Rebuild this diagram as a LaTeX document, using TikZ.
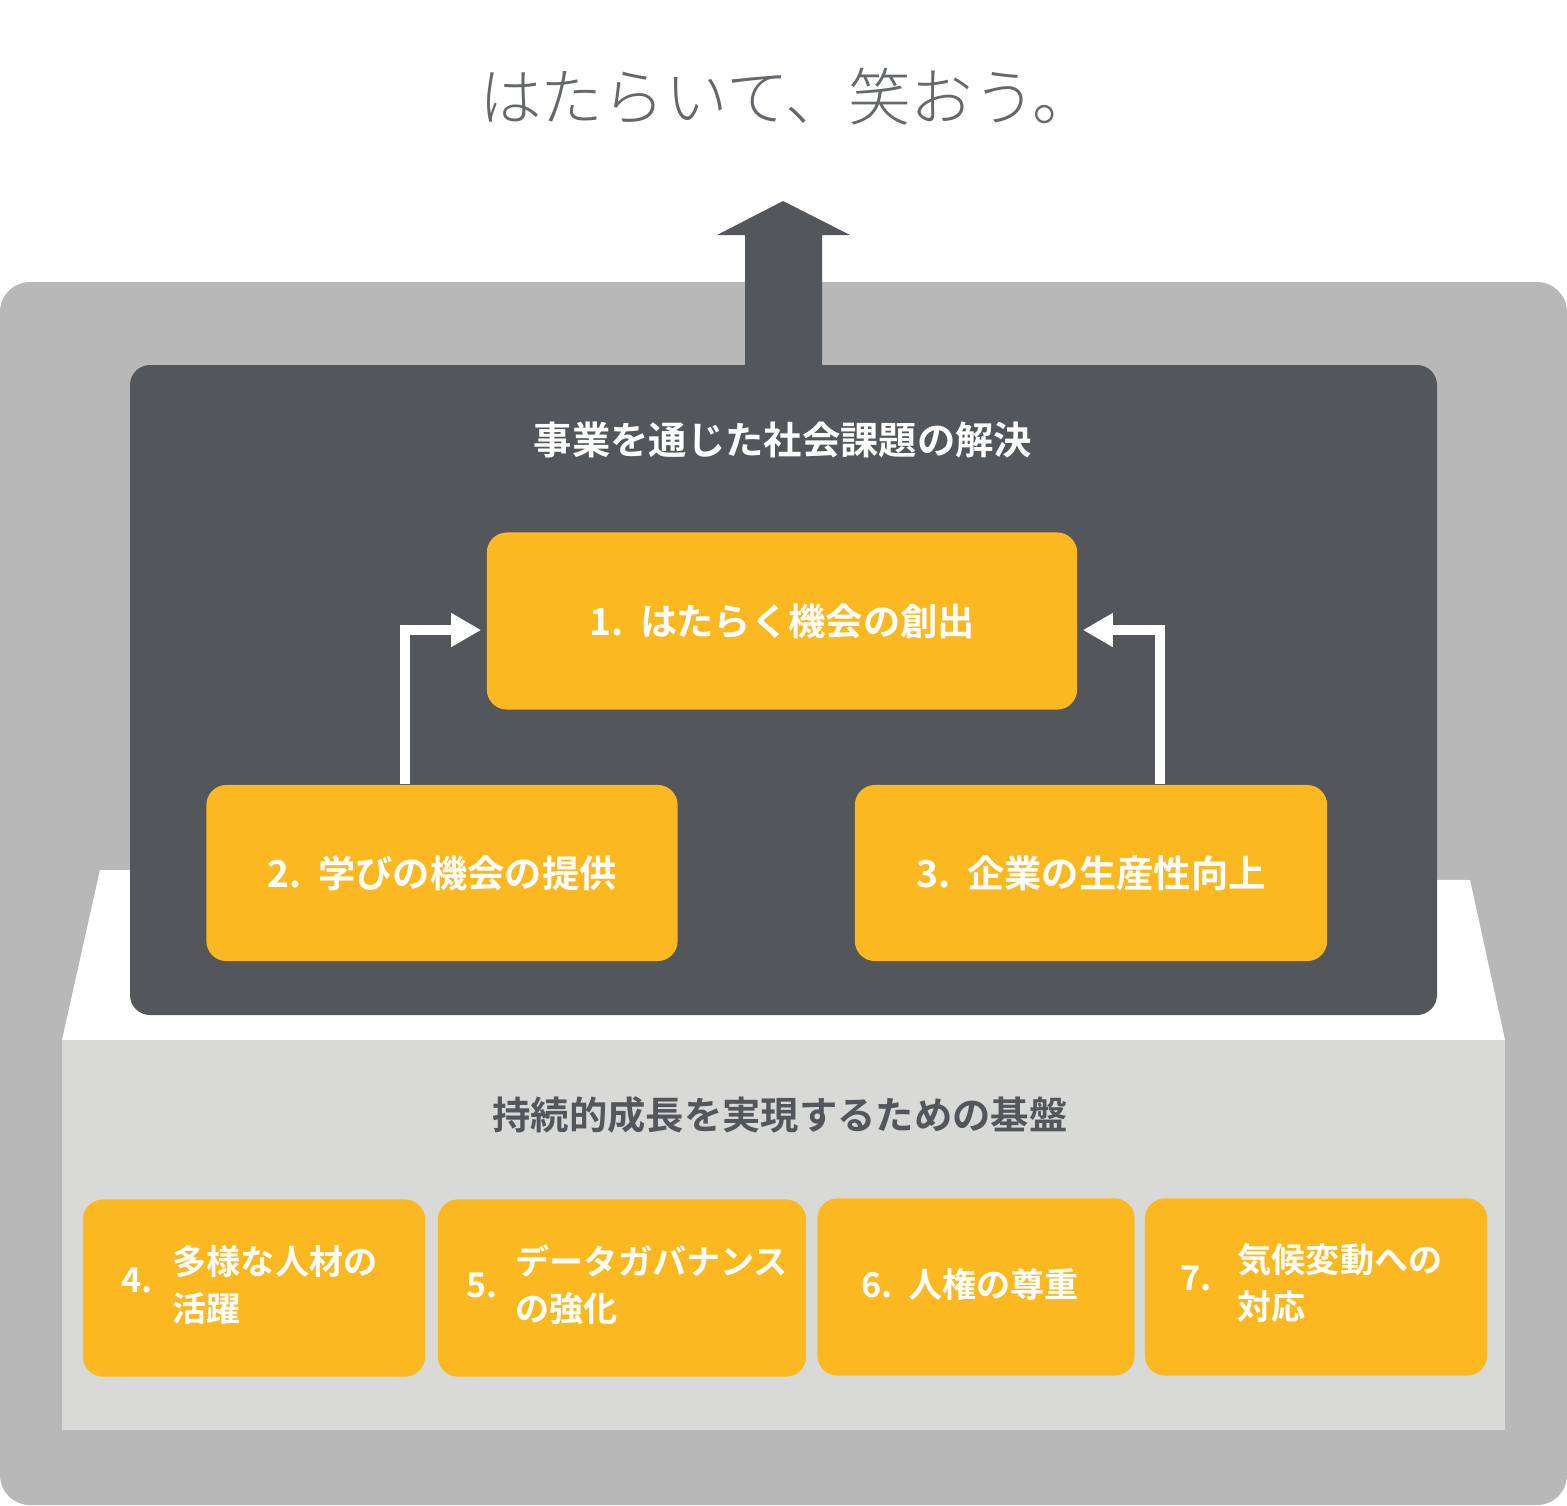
\documentclass[tikz,border=0pt]{standalone}
\usepackage{fontspec}
\setmainfont{Noto Sans CJK JP}
\newfontfamily\cjkb{Noto Sans CJK JP Bold}
\newfontfamily\cjkl{Noto Sans CJK JP Light}
\usetikzlibrary{arrows.meta,positioning}
\definecolor{darkbg}{HTML}{53565B}
\definecolor{outerbg}{HTML}{B8B8B8}
\definecolor{basebg}{HTML}{D9D9D8}
\definecolor{goal}{HTML}{FBB820}
\tikzset{
  box/.style={fill=goal, rounded corners=0.2cm, inner sep=0pt, text=white, font=\cjkb\fontsize{10.6}{13}\selectfont},
  small/.style={box, font=\cjkb\fontsize{9.7}{13.5}\selectfont},
  flow/.style={draw=white, line width=0.1cm, -{Triangle[length=0.3cm,width=0.32cm]}, shorten >=0.05cm},
}
\begin{document}
\begin{tikzpicture}[x=0.01cm, y=-0.01cm]
    \useasboundingbox (0,0) rectangle (1567,1505);

    % frame and base
    \fill[outerbg, rounded corners=0.3cm] (0,282) rectangle (1567,1505);
    \fill[white] (100,870) -- (1470,880) -- (1505,1040) -- (62,1040) -- cycle;
    \fill[basebg] (62,1040) rectangle (1505,1430);

    % arrow upwards
    \fill[darkbg] (745,380) -- (745,235) -- (717,235) -- (783,201) -- (850,235) -- (822,235) -- (822,380) -- cycle;
    \node[font=\cjkl\fontsize{17.8}{22}\selectfont, text=darkbg!90] (motto) at (787,97) {はたらいて、笑おう。};

    % upper panel
    \fill[darkbg, rounded corners=0.2cm] (130,365) rectangle (1437,1015);
    \node[font=\cjkb\fontsize{10.9}{13}\selectfont, text=white] (solve) at (783,440) {事業を通じた社会課題の解決};

    \node[box, minimum width=5.9cm, minimum height=1.77cm] (b1) at (782,621) {1.\ \ はたらく機会の創出};
    \node[box, minimum width=4.71cm, minimum height=1.76cm] (b2) at (442,873) {2.\ \ 学びの機会の提供};
    \node[box, minimum width=4.72cm, minimum height=1.76cm] (b3) at (1091,873) {3.\ \ 企業の生産性向上};

    \draw[flow] ([xshift=-0.37cm]b2.north) |- ([yshift=-0.09cm]b1.west);
    \draw[flow] ([xshift=0.69cm]b3.north) |- ([yshift=-0.09cm]b1.east);

    % foundation
    \node[font=\cjkb\fontsize{10.9}{13}\selectfont, text=darkbg] (base) at (780,1115) {持続的成長を実現するための基盤};

    \node[small, minimum width=3.42cm, minimum height=1.77cm] (b4) at (254,1288) {};
    \node[small, minimum width=3.68cm, minimum height=1.77cm] (b5) at (622,1288) {};
    \node[small, minimum width=3.17cm, minimum height=1.77cm] (b6) at (976,1287) {};
    \node[small, minimum width=3.42cm, minimum height=1.77cm] (b7) at (1316,1287) {};

    \node[small, fill=none] (n4) at (137,1280) {4.};
    \node[small, fill=none, align=left, anchor=west] (t4) at (172,1285) {多様な人材の\\活躍};
    \node[small, fill=none] (n5) at (482,1285) {5.};
    \node[small, fill=none, align=left, anchor=west] (t5) at (515,1285) {データガバナンス\\の強化};
    \node[small, fill=none] (t6) at (970,1284) {6.\ \ 人権の尊重};
    \node[small, fill=none] (n7) at (1196,1278) {7.};
    \node[small, fill=none, align=left, anchor=west] (t7) at (1237,1283) {気候変動への\\対応};
\end{tikzpicture}
\end{document}
